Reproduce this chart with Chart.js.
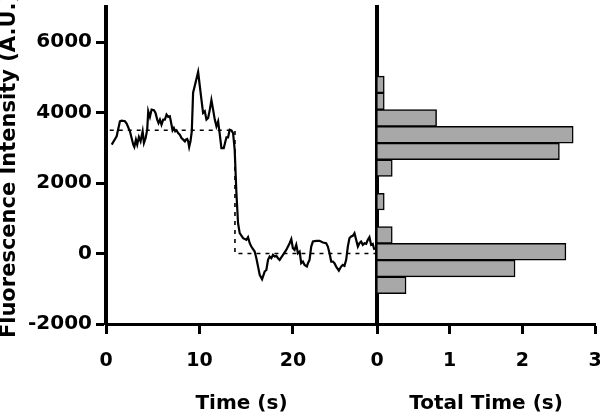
<!DOCTYPE html>
<html>
<head>
<meta charset="utf-8">
<script src="https://cdn.jsdelivr.net/npm/chart.js@4.4.0/dist/chart.umd.min.js"></script>
<style>
  html, body { margin: 0; padding: 0; background: #fff; overflow: hidden; }
  #traceChart { position: absolute; left: 0; top: 0; }
  #histChart { position: absolute; left: 360px; top: 0; }
</style>
</head>
<body>
<canvas id="traceChart" width="380" height="417"></canvas>
<canvas id="histChart" width="240" height="417"></canvas>
<script>
// intensity trace (s, A.U.)
const times = [0.61,1.14,1.49,1.67,2.03,2.21,2.56,2.92,3.03,3.2,3.34,3.52,3.7,3.92,4.06,4.24,4.41,4.52,4.7,4.88,
  5.13,5.3,5.48,5.62,5.77,5.94,6.12,6.3,6.48,6.66,6.83,6.94,7.12,7.26,7.41,7.55,7.72,7.9,8.08,8.26,
  8.44,8.54,8.69,8.79,8.9,9.04,9.18,9.32,9.86,10.04,10.21,10.39,10.57,10.75,10.93,11.11,11.28,11.46,11.64,11.82,
  12.0,12.17,12.35,12.6,12.89,13.06,13.24,13.42,13.6,13.77,13.95,14.13,14.31,14.67,15.02,15.2,15.38,15.55,15.91,16.09,
  16.27,16.45,16.7,16.98,17.16,17.34,17.51,17.69,17.87,18.05,18.23,18.41,18.58,18.94,19.29,19.65,19.83,20.0,20.18,20.36,
  20.54,20.72,20.89,21.07,21.25,21.5,21.61,21.78,21.96,22.14,22.5,22.85,23.21,23.56,23.74,23.92,24.1,24.28,24.45,24.63,
  24.92,25.16,25.34,25.52,25.7,25.88,26.05,26.23,26.41,26.59,26.77,26.95,27.12,27.3,27.48,27.66,27.84,28.02,28.19,28.37,
  28.55,28.62,28.73];
const intensity = [3092,3329,3755,3774,3755,3689,3470,3092,3025,3234,3092,3310,3186,3470,3139,3281,3518,4040,3878,4087,
  4068,3992,3803,3708,3803,3660,3803,3803,3945,3878,3897,3755,3499,3565,3470,3499,3423,3376,3281,3234,
  3186,3234,3253,3186,3025,3186,3470,4566,5154,4755,4376,3992,4040,3803,3850,4087,4357,4087,3803,3613,
  3755,3400,2996,2996,3300,3300,3518,3500,3420,2950,1750,862,578,436,389,464,294,199,57,-133,
  -370,-607,-730,-512,-465,-180,-85,-133,-38,-85,-66,-133,-180,-38,104,294,408,152,104,247,
  10,57,-275,-228,-323,-370,-275,-180,199,341,360,360,313,294,199,10,-228,-228,-275,-370,
  -484,-370,-323,-351,-180,199,436,484,503,578,389,199,294,341,247,294,275,389,464,247,
  275,199,104];

// fitted two-level step
const stepTimes = [0.4, 13.8, 13.8, 28.9];
const stepLevels = [3500, 3500, 0, 0];

// dwell-time histogram
const binCenters = [4800,4325,3850,3375,2900,2425,1950,1475,1000,525,50,-425,-900];
const totalTime = [0.1,0.1,0.82,2.7,2.51,0.21,0,0.1,0,0.21,2.6,1.9,0.4];

const yTicks = [-2000, 0, 2000, 4000, 6000];

const fam = 'DejaVu Sans';
const tickFont = { family: fam, size: 19, weight: 'bold' };
const titleFont = { family: fam, size: 20, weight: 'bold', lineHeight: 1.3 };

const noPad = s => { s.paddingTop = 0; s.paddingBottom = 0; s.paddingLeft = 0; s.paddingRight = 0; };
const axisX = {
  grid: { drawOnChartArea: false, tickLength: 10, tickWidth: 3, tickColor: '#000' },
  border: { color: '#000', width: 3 },
};

new Chart(document.getElementById('traceChart'), {
  type: 'line',
  data: {
    datasets: [
      { data: times.map((t, i) => ({ x: t, y: intensity[i] })), borderColor: '#000', borderWidth: 2.2,
        pointRadius: 0, tension: 0, fill: false },
      { data: stepTimes.map((t, i) => ({ x: t, y: stepLevels[i] })), borderColor: '#000', borderWidth: 1.6,
        borderDash: [4, 5], pointRadius: 0, tension: 0, fill: false }
    ]
  },
  options: {
    responsive: false,
    animation: false,
    layout: { padding: { top: 7, right: 3, left: 0, bottom: 0 } },
    plugins: { legend: { display: false }, tooltip: { enabled: false } },
    scales: {
      x: {
        type: 'linear', min: 0, max: 29,
        afterBuildTicks: s => { s.ticks = s.ticks.filter(t => t.value % 10 === 0); },
        afterFit: s => { s.height = 93; noPad(s); },
        ticks: { stepSize: 10, color: '#000', font: tickFont, padding: 16, maxRotation: 0 },
        ...axisX,
        title: { display: true, text: 'Time (s)', color: '#000', font: titleFont, padding: 0 }
      },
      y: {
        min: -2000, max: 7000,
        afterBuildTicks: s => { s.ticks = yTicks.map(v => ({ value: v })); },
        afterFit: s => { s.width = 106; noPad(s); },
        ticks: { color: '#000', font: { family: fam, size: 20, weight: 'bold' }, padding: 4,
          callback: v => String(v) },
        grid: { drawOnChartArea: false, tickLength: 10, tickWidth: 3, tickColor: '#000' },
        border: { color: '#000', width: 4 },
        title: { display: true, text: 'Fluorescence Intensity (A.U.)', color: '#000',
          font: { family: fam, size: 21, weight: 'bold', lineHeight: 0.9 }, padding: 0 }
      }
    }
  }
});

new Chart(document.getElementById('histChart'), {
  type: 'bar',
  data: {
    datasets: [{
      data: binCenters.map((c, i) => ({ x: totalTime[i], y: c })),
      backgroundColor: '#a8a8a8',
      borderColor: '#000',
      borderWidth: 1.5,
      barPercentage: 1,
      categoryPercentage: 1
    }]
  },
  options: {
    indexAxis: 'y',
    responsive: false,
    animation: false,
    layout: { padding: { top: 7, right: 5, left: 17, bottom: 0 } },
    plugins: { legend: { display: false }, tooltip: { enabled: false } },
    scales: {
      x: {
        type: 'linear', min: 0, max: 3,
        afterFit: s => { s.height = 93; noPad(s); },
        ticks: { stepSize: 1, color: '#000', font: tickFont, padding: 16, maxRotation: 0 },
        ...axisX,
        title: { display: true, text: 'Total Time (s)', color: '#000', font: titleFont, padding: 0 }
      },
      y: {
        type: 'linear', min: -2000, max: 7000,
        afterBuildTicks: s => { s.ticks = []; },
        afterFit: s => { s.width = 0; noPad(s); },
        ticks: { display: false },
        grid: { display: false },
        border: { color: '#000', width: 4 }
      }
    }
  }
});
</script>
</body>
</html>
